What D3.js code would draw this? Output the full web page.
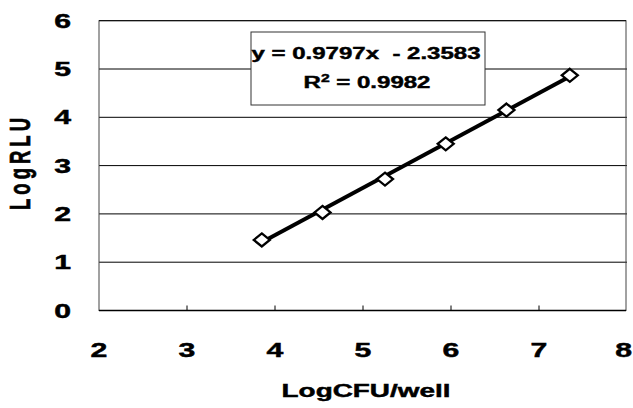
<!DOCTYPE html>
<html>
<head>
<meta charset="utf-8">
<script src="https://cdn.jsdelivr.net/npm/d3@7"></script>
<style>
  body { margin: 0; background: #fff; }
  svg { display: block; font-family: "Liberation Sans", Arial, sans-serif; font-weight: bold; }
  text { stroke: #000; stroke-width: 0.45px; }
</style>
</head>
<body>
<svg id="chart" width="633" height="408"></svg>
<script>
"use strict";

// data
const logCFU = [3.85, 4.54, 5.25, 5.94, 6.63, 7.35];
const logRLU = [1.46, 2.03, 2.72, 3.45, 4.15, 4.87];
const slope = 0.9797;
const intercept = -2.3583;
const rSquared = 0.9982;
const xTicks = [2, 3, 4, 5, 6, 7, 8];
const yTicks = [0, 1, 2, 3, 4, 5, 6];

const svg = d3.select("#chart");

// the scanned figure is stretched sideways, so text gets a horizontal scale
const stretch = 1.55;

const x = d3.scaleLinear().domain([2, 8]).range([99, 627]);
const y = d3.scaleLinear().domain([0, 6]).range([310.5, 20.7]);

// Gridlines
svg
  .append("g")
  .selectAll("line")
  .data(yTicks.filter((d) => d > 0 && d < 6))
  .join("line")
  .attr("x1", x(2))
  .attr("x2", x(8))
  .attr("y1", (d) => y(d))
  .attr("y2", (d) => y(d))
  .attr("stroke", "#000")
  .attr("stroke-width", 1);

// Plot frame
svg
  .append("rect")
  .attr("x", x(2))
  .attr("y", y(6))
  .attr("width", x(8) - x(2) - 1)
  .attr("height", y(0) - y(6))
  .attr("fill", "none")
  .attr("stroke", "#444")
  .attr("stroke-width", 1);

svg
  .append("line")
  .attr("x1", x(2))
  .attr("x2", x(8) - 1)
  .attr("y1", y(6))
  .attr("y2", y(6))
  .attr("stroke", "#000");

svg
  .append("line")
  .attr("x1", x(2))
  .attr("x2", x(8) - 1)
  .attr("y1", y(0))
  .attr("y2", y(0))
  .attr("stroke", "#000")
  .attr("stroke-width", 1.3);

// small ticks on the x axis
svg
  .append("g")
  .selectAll("line")
  .data(xTicks.slice(1, -1))
  .join("line")
  .attr("x1", (d) => x(d))
  .attr("x2", (d) => x(d))
  .attr("y1", y(0))
  .attr("y2", y(0) - 5)
  .attr("stroke", "#000");

// helper for stretched text
function stretchedText(px, py, str, size, anchor, sx = stretch) {
  return svg
    .append("g")
    .attr("transform", `translate(${px},${py}) scale(${sx},1)`)
    .append("text")
    .attr("text-anchor", anchor)
    .attr("font-size", size)
    .attr("fill", "#000")
    .text(str);
}

// Tick labels
yTicks.forEach((d) => stretchedText(71, y(d) + 7, d, 19.5, "end"));
xTicks.forEach((d) =>
  d === 8
    ? stretchedText(632, 357, d, 19.5, "end")
    : stretchedText(x(d), 357, d, 19.5, "middle")
);

// Axis titles
stretchedText(366, 397, "LogCFU/well", 18, "middle");

svg
  .append("g")
  .attr("transform", `translate(30,164) scale(${stretch},1) rotate(-90)`)
  .append("text")
  .attr("text-anchor", "middle")
  .attr("font-size", 18.5)
  .attr("textLength", 92)
  .attr("lengthAdjust", "spacing")
  .text("LogRLU");

// Trendline
const xExtent = d3.extent(logCFU);
svg
  .append("line")
  .attr("x1", x(xExtent[0]))
  .attr("y1", y(slope * xExtent[0] + intercept))
  .attr("x2", x(xExtent[1]))
  .attr("y2", y(slope * xExtent[1] + intercept))
  .attr("stroke", "#000")
  .attr("stroke-width", 4);

// Diamond markers
const points = logCFU.map((v, i) => ({ x: v, y: logRLU[i] }));
svg
  .append("g")
  .selectAll("path")
  .data(points)
  .join("path")
  .attr("transform", (d) => `translate(${x(d.x)},${y(d.y)})`)
  .attr("d", "M0,-6.5 L8,0 L0,6.5 L-8,0 Z")
  .attr("fill", "#fff")
  .attr("stroke", "#000")
  .attr("stroke-width", 2.3);

// Equation box
svg
  .append("rect")
  .attr("x", 251)
  .attr("y", 32)
  .attr("width", 234)
  .attr("height", 73)
  .attr("fill", "#fff")
  .attr("stroke", "#333")
  .attr("stroke-width", 1);

stretchedText(366, 59, `y = ${slope}x  - ${Math.abs(intercept)}`, 16.8, "middle", 1.43)
  .attr("xml:space", "preserve");

const r2 = stretchedText(367, 88, "", 16.8, "middle", 1.43);
r2.append("tspan").text("R");
r2.append("tspan").attr("dy", -6.5).attr("font-size", 11).text("2");
r2.append("tspan").attr("dy", 6.5).text(` = ${rSquared}`);
</script>
</body>
</html>
